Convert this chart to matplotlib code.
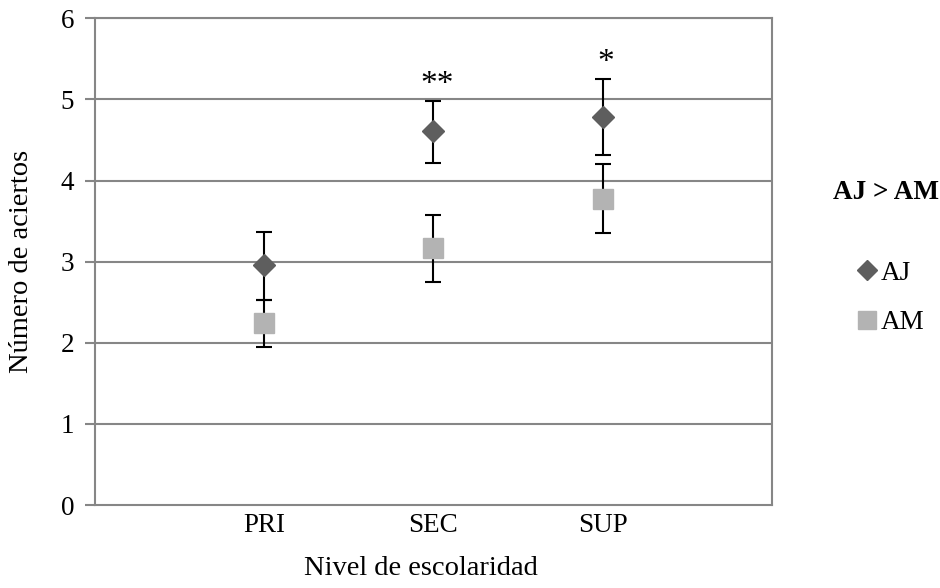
import numpy as np
import matplotlib
matplotlib.use("Agg")
import matplotlib.pyplot as plt
from matplotlib.lines import Line2D

# data
niveles = ["PRI", "SEC", "SUP"]
aj_mean = [2.96, 4.61, 4.78]
aj_hi = [3.37, 4.98, 5.25]
aj_lo = [2.53, 4.22, 4.31]
am_mean = [2.24, 3.17, 3.77]
am_hi = [2.53, 3.58, 4.20]
am_lo = [1.95, 2.75, 3.35]
signif = ["", "**", "*"]

plt.rcParams['font.family'] = ['Liberation Serif', 'DejaVu Serif']

fig = plt.figure(figsize=(9.4, 5.88), dpi=100)
ax = fig.add_axes([0.101, 0.141, 0.720, 0.828])

x = np.arange(1, len(niveles) + 1)
grid_col = "#868686"

for y in range(1, 7):
    ax.axhline(y, color=grid_col, lw=1.5, zorder=0)

aj_err = [np.array(aj_mean) - np.array(aj_lo), np.array(aj_hi) - np.array(aj_mean)]
am_err = [np.array(am_mean) - np.array(am_lo), np.array(am_hi) - np.array(am_mean)]

ax.errorbar(x, am_mean, yerr=am_err, fmt='s', color='#b3b3b3', ms=14,
            ecolor='black', elinewidth=1.5, capsize=6, capthick=1.5, zorder=3)
ax.errorbar(x, aj_mean, yerr=aj_err, fmt='D', color='#5e5e5e', ms=11,
            ecolor='black', elinewidth=1.5, capsize=6, capthick=1.5, zorder=4)

for xi, hi, s in zip(x, aj_hi, signif):
    if s:
        ax.text(xi + 0.02, hi + 0.01, s, ha='center', va='bottom', fontsize=24)

ax.set_xlim(0, 4)
ax.set_ylim(0, 6)
ax.set_xticks(x)
ax.set_xticklabels(niveles)
ax.set_yticks(range(0, 7))
ax.tick_params(axis='x', length=0, pad=6, labelsize=19.5)
ax.tick_params(axis='y', length=7, width=1.5, color=grid_col, pad=8, labelsize=19.5)
for sp in ax.spines.values():
    sp.set_color(grid_col)
    sp.set_linewidth(1.5)

ax.set_ylabel("Número de aciertos", fontsize=20.5)
ax.set_xlabel("Nivel de escolaridad", fontsize=20.5)
ax.yaxis.set_label_coords(-0.108, 0.5)
ax.xaxis.set_label_coords(0.482, -0.13)
ax.xaxis.label.set_va('center')
ax.yaxis.label.set_va('center')

fig.text(0.886, 0.673, "AJ > AM", fontsize=19.5, fontweight='bold', ha='left', va='center')
handles = [Line2D([], [], ls='none', marker='D', color='#5e5e5e', ms=10),
           Line2D([], [], ls='none', marker='s', color='#b3b3b3', ms=13)]
fig.legend(handles, ["AJ", "AM"], loc='upper left', bbox_to_anchor=(0.902, 0.575),
           frameon=False, fontsize=19.5, handlelength=0.6, handletextpad=0.2,
           labelspacing=0.9, borderaxespad=0)

fig.savefig("out.png", dpi=100)
